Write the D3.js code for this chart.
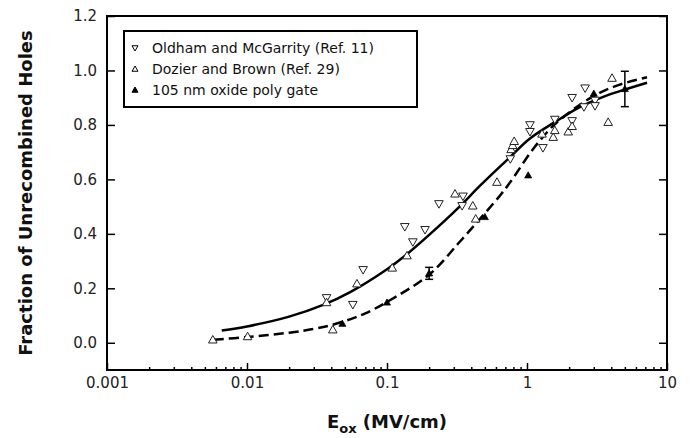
<!DOCTYPE html>
<html>
<head>
<meta charset="utf-8">
<script src="https://cdn.jsdelivr.net/npm/d3@7"></script>
<style>
  body { margin: 0; background: #fff; }
  svg { display: block; font-family: "DejaVu Sans", Verdana, sans-serif; }
</style>
</head>
<body>
<div class="chart"></div>
<script>
// Oldham and McGarrity (down triangles, open)
var oldhamE = [0.037, 0.057, 0.0675, 0.134, 0.153, 0.187, 0.235, 0.349, 0.344, 0.76, 1.05, 1.05, 1.30, 1.58, 2.1, 2.1, 2.55, 2.6, 3.06, 3.06];
var oldhamF = [0.165, 0.14, 0.268, 0.426, 0.37, 0.415, 0.51, 0.538, 0.503, 0.675, 0.80, 0.775, 0.716, 0.82, 0.815, 0.90, 0.866, 0.935, 0.89, 0.87];

// Dozier and Brown (up triangles, open)
var dozierE = [0.0057, 0.0101, 0.037, 0.041, 0.061, 0.109, 0.139, 0.306, 0.41, 0.43, 0.61, 0.77, 0.79, 0.81, 1.28, 1.54, 1.58, 1.97, 2.1, 3.8, 4.05];
var dozierF = [0.011, 0.023, 0.148, 0.048, 0.217, 0.275, 0.32, 0.547, 0.503, 0.455, 0.59, 0.71, 0.725, 0.74, 0.767, 0.755, 0.78, 0.775, 0.795, 0.81, 0.972];

// 105 nm oxide poly gate (filled up triangles)
var polyE = [0.048, 0.1, 0.2, 0.5, 1.02, 3.0, 5.0];
var polyF = [0.07, 0.148, 0.255, 0.462, 0.615, 0.915, 0.932];
var polyErr = [0, 0, 0.022, 0, 0, 0, 0.065];

// fit curves
var solidE = [0.0066, 0.01, 0.02, 0.035, 0.055, 0.1, 0.14, 0.2, 0.33, 0.46, 0.75, 1.05, 1.6, 2.4, 3.5, 4.6, 7.2];
var solidF = [0.045, 0.06, 0.096, 0.139, 0.187, 0.27, 0.327, 0.396, 0.50, 0.576, 0.68, 0.75, 0.812, 0.866, 0.903, 0.924, 0.955];
var dashE = [0.0058, 0.01, 0.02, 0.03, 0.04, 0.055, 0.07, 0.1, 0.2, 0.33, 0.48, 0.64, 0.76, 1.1, 1.46, 1.64, 2.4, 3.3, 4.6, 7.2];
var dashF = [0.011, 0.021, 0.037, 0.051, 0.065, 0.087, 0.108, 0.15, 0.25, 0.37, 0.465, 0.54, 0.59, 0.71, 0.785, 0.81, 0.875, 0.918, 0.948, 0.975];

var xTicks = [0.001, 0.01, 0.1, 1, 10];
var xTickLabels = ["0.001", "0.01", "0.1", "1", "10"];
var yTicks = [0, 0.2, 0.4, 0.6, 0.8, 1.0, 1.2];
var legendNames = ["Oldham and McGarrity (Ref. 11)", "Dozier and Brown (Ref. 29)", "105 nm oxide poly gate"];

var width = 690, height = 438;
var pLeft = 107, pRight = 667, pTop = 16, pBottom = 370;

var svg = d3.select(".chart").append("svg")
    .attr("width", width)
    .attr("height", height);

var x = d3.scaleLog().domain([0.001, 10]).range([pLeft, pRight]);
var y = d3.scaleLinear().domain([-0.1, 1.2]).range([pBottom, pTop]);

var zip = function(a, b) { return a.map(function(v, i) { return [v, b[i]]; }); };

// minor ticks 2..9 per decade
var minor = [];
[0.001, 0.01, 0.1, 1].forEach(function(d) {
  for (var k = 2; k <= 9; k++) minor.push(d * k);
});

svg.append("g")
    .attr("transform", "translate(0," + pBottom + ")")
    .call(d3.axisBottom(x).tickValues(minor).tickSize(-3).tickFormat(""))
    .call(function(g) { g.select(".domain").remove(); });

var xa = svg.append("g")
    .attr("transform", "translate(0," + pBottom + ")")
    .call(d3.axisBottom(x).tickValues(xTicks).tickSize(-7).tickPadding(7)
      .tickFormat(function(d, i) { return xTickLabels[i]; }));
xa.select(".domain").remove();

var ya = svg.append("g")
    .attr("transform", "translate(" + pLeft + ",0)")
    .call(d3.axisLeft(y).tickValues(yTicks).tickSize(-8).tickPadding(10).tickFormat(d3.format(".1f")));
ya.select(".domain").remove();

var ra = svg.append("g")
    .attr("transform", "translate(" + pRight + ",0)")
    .call(d3.axisRight(y).tickValues(yTicks).tickSize(-8).tickFormat(""));
ra.select(".domain").remove();

svg.selectAll(".tick line").attr("stroke", "#000").attr("stroke-width", 1.5);
svg.selectAll(".tick text").attr("font-size", 15).attr("fill", "#222")
    .attr("font-family", "DejaVu Sans, Verdana, sans-serif");

// frame
svg.append("rect")
    .attr("x", pLeft).attr("y", pTop)
    .attr("width", pRight - pLeft).attr("height", pBottom - pTop)
    .attr("fill", "none").attr("stroke", "#000").attr("stroke-width", 2);

// curves
var line = d3.line()
    .x(function(d) { return x(d[0]); })
    .y(function(d) { return y(d[1]); })
    .curve(d3.curveCatmullRom.alpha(0.5));

svg.append("path")
    .attr("d", line(zip(solidE, solidF)))
    .attr("fill", "none").attr("stroke", "#000").attr("stroke-width", 2.5);

svg.append("path")
    .attr("d", line(zip(dashE, dashF)))
    .attr("fill", "none").attr("stroke", "#000").attr("stroke-width", 2.5)
    .attr("stroke-dasharray", "10,5");

var upTri = function(s) { return "M0," + (-s) + "L" + s + "," + (s * 0.75) + "L" + (-s) + "," + (s * 0.75) + "Z"; };
var downTri = function(s) { return "M0," + s + "L" + s + "," + (-s * 0.75) + "L" + (-s) + "," + (-s * 0.75) + "Z"; };

// error bars
var errs = polyE.map(function(e, i) { return [e, polyF[i], polyErr[i]]; }).filter(function(d) { return d[2] > 0; });
var eb = svg.append("g").attr("stroke", "#000").attr("stroke-width", 1.5);
errs.forEach(function(d) {
  var cx = x(d[0]), y0 = y(d[1] - d[2]), y1 = y(d[1] + d[2]);
  eb.append("line").attr("x1", cx).attr("x2", cx).attr("y1", y0).attr("y2", y1);
  eb.append("line").attr("x1", cx - 4).attr("x2", cx + 4).attr("y1", y0).attr("y2", y0);
  eb.append("line").attr("x1", cx - 4).attr("x2", cx + 4).attr("y1", y1).attr("y2", y1);
});

svg.append("g").selectAll("path").data(zip(oldhamE, oldhamF)).enter().append("path")
    .attr("d", downTri(4.3))
    .attr("transform", function(d) { return "translate(" + x(d[0]) + "," + y(d[1]) + ")"; })
    .attr("fill", "#fff").attr("stroke", "#222").attr("stroke-width", 1);

svg.append("g").selectAll("path").data(zip(dozierE, dozierF)).enter().append("path")
    .attr("d", upTri(4.3))
    .attr("transform", function(d) { return "translate(" + x(d[0]) + "," + y(d[1]) + ")"; })
    .attr("fill", "#fff").attr("stroke", "#222").attr("stroke-width", 1);

svg.append("g").selectAll("path").data(zip(polyE, polyF)).enter().append("path")
    .attr("d", upTri(3.5))
    .attr("transform", function(d) { return "translate(" + x(d[0]) + "," + y(d[1]) + ")"; })
    .attr("fill", "#000").attr("stroke", "#000").attr("stroke-width", 0.8);

// legend
var lg = svg.append("g");
lg.append("rect")
    .attr("x", 124).attr("y", 31).attr("width", 293).attr("height", 76)
    .attr("fill", "#fff").attr("stroke", "#000").attr("stroke-width", 2);
var shapes = [downTri(3), upTri(3), upTri(3)];
var fills = ["#fff", "#fff", "#000"];
legendNames.forEach(function(name, i) {
  var ly = 48 + i * 21;
  lg.append("path").attr("d", shapes[i])
    .attr("transform", "translate(135," + ly + ")")
    .attr("fill", fills[i]).attr("stroke", "#000").attr("stroke-width", 1);
  lg.append("text").attr("x", 152).attr("y", ly + 5)
    .attr("font-size", 14).attr("fill", "#111").text(name);
});

// axis titles
svg.append("text")
    .attr("transform", "translate(32," + ((pTop + pBottom) / 2) + ") rotate(-90)")
    .attr("text-anchor", "middle")
    .attr("font-size", 18).attr("font-weight", "bold").attr("fill", "#111")
    .text("Fraction of Unrecombined Holes");

var xt = svg.append("text")
    .attr("x", (pLeft + pRight) / 2).attr("y", 428)
    .attr("text-anchor", "middle")
    .attr("font-size", 18).attr("font-weight", "bold").attr("fill", "#111");
xt.append("tspan").text("E");
xt.append("tspan").attr("font-size", 13).attr("dy", 5).text("ox");
xt.append("tspan").attr("dy", -5).text(" (MV/cm)");
</script>
</body>
</html>
